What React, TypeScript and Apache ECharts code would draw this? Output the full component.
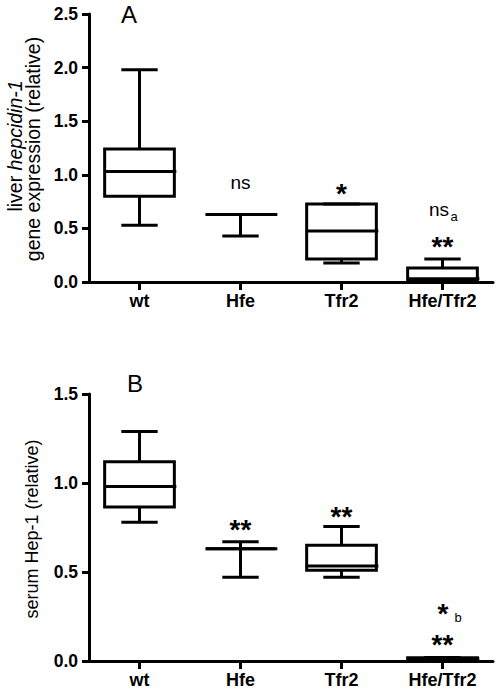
import React, { useEffect, useRef } from "react";
import * as echarts from "echarts";

const categories = ["wt", "Hfe", "Tfr2", "Hfe/Tfr2"];

// [min, Q1, median, Q3, max]
const liverStats = [
  [0.53, 0.8, 1.03, 1.24, 1.98],
  [0.43, 0.63, 0.63, 0.63, 0.63],
  [0.177, 0.215, 0.476, 0.728, 0.728],
  [0.01, 0.02, 0.03, 0.13, 0.215],
];
const serumStats = [
  [0.78, 0.865, 0.98, 1.12, 1.29],
  [0.47, 0.63, 0.63, 0.63, 0.67],
  [0.47, 0.51, 0.534, 0.65, 0.755],
  [0.005, 0.01, 0.012, 0.018, 0.02],
];

const liverTicks = [0, 0.5, 1.0, 1.5, 2.0, 2.5];
const serumTicks = [0, 0.5, 1.0, 1.5];

type Mark = { cat: number; y: number; text: string; sub?: string };
const liverMarks: Mark[] = [
  { cat: 1, y: 0.905, text: "ns" },
  { cat: 2, y: 0.877, text: "*" },
  { cat: 3, y: 0.653, text: "ns", sub: "a" },
  { cat: 3, y: 0.39, text: "**" },
];
const serumMarks: Mark[] = [
  { cat: 1, y: 0.775, text: "**" },
  { cat: 2, y: 0.848, text: "**" },
  { cat: 3, y: 0.303, text: "*", sub: "b" },
  { cat: 3, y: 0.129, text: "**" },
];

const FONT = 'Arial, "Liberation Sans", Helvetica, sans-serif';

function boxRenderer(stats: number[][]) {
  return (params: any, api: any) => {
    const i = params.dataIndex;
    const [mn, q1, md, q3, mx] = stats[i];
    const cx = api.coord([i, 0])[0];
    const bw = api.size([1, 0])[0];
    const half = bw * 0.345;
    const capHalf = bw * 0.18;
    const Y = (v: number) => api.coord([i, v])[1];
    const st = { stroke: "#000", lineWidth: 3, fill: "none" };
    const line = (x1: number, y1: number, x2: number, y2: number) => ({
      type: "line",
      shape: { x1, y1, x2, y2 },
      style: st,
    });
    return {
      type: "group",
      children: [
        line(cx, Y(q3), cx, Y(mx)),
        line(cx, Y(q1), cx, Y(mn)),
        line(cx - capHalf, Y(mx), cx + capHalf, Y(mx)),
        line(cx - capHalf, Y(mn), cx + capHalf, Y(mn)),
        {
          type: "rect",
          shape: { x: cx - half, y: Y(q3), width: half * 2, height: Y(q1) - Y(q3) },
          style: { stroke: "#000", lineWidth: 3, fill: "none" },
        },
        line(cx - half, Y(md), cx + half + 2, Y(md)),
      ],
    };
  };
}

function markRenderer(marks: Mark[]) {
  return (params: any, api: any) => {
    const m = marks[params.dataIndex];
    const p = api.coord([m.cat, m.y]);
    const isStar = m.text.startsWith("*");
    const fs = isStar ? 28 : 19;
    const dy = isStar ? 6 : -2;
    const children: any[] = [];
    let mainX = p[0];
    if (m.sub) mainX = isStar ? p[0] + 0.5 : p[0] - 3.5;
    children.push({
      type: "text",
      style: {
        text: m.text,
        x: mainX,
        y: p[1] + dy,
        fontSize: fs,
        fontWeight: isStar ? "bold" : "normal",
        lineHeight: 20,
        fontFamily: FONT,
        fill: "#000",
        align: "center",
        verticalAlign: "middle",
      },
    });
    if (m.sub) {
      children.push({
        type: "text",
        style: {
          text: m.sub,
          x: isStar ? p[0] + 12 : p[0] + 8,
          y: isStar ? p[1] + 10 : p[1] + 5,
          fontSize: 13,
          lineHeight: 13,
          fontFamily: FONT,
          fill: "#000",
          align: "left",
          verticalAlign: "middle",
        },
      });
    }
    return { type: "group", children };
  };
}

function yAxisFor(ticks: number[], gridIndex: number) {
  return {
    type: "value",
    gridIndex,
    min: ticks[0],
    max: ticks[ticks.length - 1],
    interval: ticks[1] - ticks[0],
    axisLine: { show: true, lineStyle: { color: "#000", width: 3 } },
    axisTick: { show: true, length: 7, lineStyle: { color: "#000", width: 3 } },
    axisLabel: {
      color: "#000",
      fontSize: 17.5,
      fontWeight: "bold",
      fontFamily: FONT,
      margin: 11,
      formatter: (v: number) => v.toFixed(1),
    },
    splitLine: { show: false },
  };
}

function xAxisFor(gridIndex: number) {
  return {
    type: "category",
    gridIndex,
    data: categories,
    axisLine: { show: true, lineStyle: { color: "#000", width: 3 } },
    axisTick: { show: true, alignWithLabel: true, length: 8, lineStyle: { color: "#000", width: 3 } },
    axisLabel: {
      color: "#000",
      fontSize: 18,
      fontWeight: "bold",
      fontFamily: FONT,
      margin: 10,
    },
    splitLine: { show: false },
  };
}

export default function App() {
  const ref = useRef<HTMLDivElement>(null);
  useEffect(() => {
    if (!ref.current) return;
    const chart = echarts.init(ref.current, undefined, { renderer: "svg" });
    const boxData = (stats: number[][]) => stats.map((s, i) => [i, ...s]);
    const markData = (marks: Mark[]) => marks.map((m) => [m.cat, m.y]);
    chart.setOption({
      animation: false,
      backgroundColor: "#fff",
      grid: [
        { left: 89, top: 14, width: 404, height: 268, outerBoundsMode: "none", containLabel: false },
        { left: 89, top: 394, width: 404, height: 267, outerBoundsMode: "none", containLabel: false },
      ],
      xAxis: [xAxisFor(0), xAxisFor(1)],
      yAxis: [yAxisFor(liverTicks, 0), yAxisFor(serumTicks, 1)],
      series: [
        {
          type: "custom",
          xAxisIndex: 0,
          yAxisIndex: 0,
          clip: false,
          renderItem: boxRenderer(liverStats),
          encode: { x: 0, y: [1, 2, 3, 4, 5] },
          data: boxData(liverStats),
        },
        {
          type: "custom",
          xAxisIndex: 1,
          yAxisIndex: 1,
          clip: false,
          renderItem: boxRenderer(serumStats),
          encode: { x: 0, y: [1, 2, 3, 4, 5] },
          data: boxData(serumStats),
        },
        {
          type: "custom",
          xAxisIndex: 0,
          yAxisIndex: 0,
          clip: false,
          renderItem: markRenderer(liverMarks),
          encode: { x: 0, y: 1 },
          data: markData(liverMarks),
        },
        {
          type: "custom",
          xAxisIndex: 1,
          yAxisIndex: 1,
          clip: false,
          renderItem: markRenderer(serumMarks),
          encode: { x: 0, y: 1 },
          data: markData(serumMarks),
        },
      ],
      graphic: [
        {
          type: "text",
          x: 129,
          y: 14,
          style: { text: "A", fontSize: 24, fontFamily: FONT, fill: "#000", align: "center", verticalAlign: "middle" },
        },
        {
          type: "text",
          x: 135,
          y: 383,
          style: { text: "B", fontSize: 24, fontFamily: FONT, fill: "#000", align: "center", verticalAlign: "middle" },
        },
        {
          type: "text",
          x: 15,
          y: 146,
          rotation: Math.PI / 2,
          style: {
            text: "liver {i|hepcidin-1}",
            fontSize: 19.5,
            fontFamily: FONT,
            fill: "#000",
            align: "center",
            verticalAlign: "middle",
            rich: { i: { fontStyle: "italic", fontSize: 19.5, fontFamily: FONT, fill: "#000" } },
          },
        },
        {
          type: "text",
          x: 33,
          y: 149,
          rotation: Math.PI / 2,
          style: {
            text: "gene expression (relative)",
            fontSize: 19.5,
            fontFamily: FONT,
            fill: "#000",
            align: "center",
            verticalAlign: "middle",
          },
        },
        {
          type: "text",
          x: 32,
          y: 529,
          rotation: Math.PI / 2,
          style: {
            text: "serum Hep-1 (relative)",
            fontSize: 18,
            fontFamily: FONT,
            fill: "#000",
            align: "center",
            verticalAlign: "middle",
          },
        },
      ],
    });
    return () => chart.dispose();
  }, []);
  return (
    <div
      ref={ref}
      style={{ position: "fixed", left: 0, top: 0, width: 498, height: 693 }}
    />
  );
}
